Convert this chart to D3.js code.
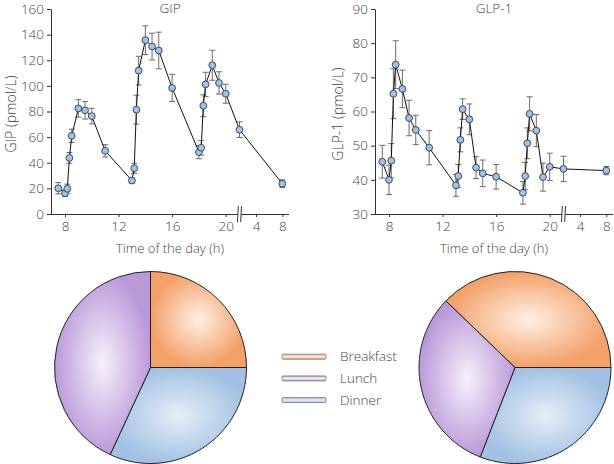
<!DOCTYPE html>
<html><head><meta charset="utf-8">
<script src="https://cdn.jsdelivr.net/npm/d3@7"></script>
<style>
body{margin:0;background:#fff;}
text{font-family:"Open Sans","DejaVu Sans",sans-serif;font-weight:300;fill:#444;}
</style></head>
<body><svg id="c" width="614" height="464"></svg>
<script>
// ---- data ----
const times = [7.5, 8, 8.17, 8.33, 8.5, 9, 9.5, 10, 11, 13, 13.17, 13.33, 13.5, 14, 14.5, 15, 16, 18, 18.17, 18.33, 18.5, 19, 19.5, 20, 22, 32];
const gipValues = [20.1, 16.2, 19.7, 43.8, 61, 82.4, 80.9, 76.4, 49.3, 26.1, 35.7, 81.4, 111.9, 135.7, 130.7, 127.6, 98.4, 48.3, 51.7, 84.5, 101.2, 116.1, 102.3, 93.9, 65.8, 23.7];
const gipErrors = [4.4, 2.5, 3.6, 4.2, 5.2, 6.8, 6.8, 6.1, 4.8, 2, 3.9, 11.3, 11.2, 11.2, 10.4, 14.3, 10.6, 5.2, 5.7, 8.5, 9.4, 11.7, 8.7, 7.4, 6.1, 3];
const glpValues = [45.3, 40.0, 45.6, 65.2, 73.7, 66.6, 58.1, 54.6, 49.4, 38.4, 41.1, 51.7, 60.7, 57.7, 43.6, 41.9, 40.9, 36.2, 41.1, 50.7, 59.3, 54.4, 40.8, 43.8, 43.2, 42.7];
const glpErrors = [4.8, 4.3, 5, 7.3, 7, 5.5, 5.2, 4.3, 5, 3.2, 3.4, 3.5, 3, 4.5, 3.2, 3.9, 3.6, 3.3, 4, 4.5, 5, 4.7, 4.1, 4, 3.7, 1.2];
const xTickValues = [8, 12, 16, 20, 28, 32];
const xTickLabels = ["8", "12", "16", "20", "4", "8"];
const breakTime = 22;
const gipTicks = [0, 20, 40, 60, 80, 100, 120, 140, 160];
const glpTicks = [30, 40, 50, 60, 70, 80, 90];
const meals = ["Breakfast", "Lunch", "Dinner"];
const gipShares = {Breakfast: 25.0, Lunch: 43.1, Dinner: 31.9};
const glpShares = {Breakfast: 37.8, Lunch: 31.3, Dinner: 30.9};
const mealEdge = {Breakfast: "#f3a069", Lunch: "#ba99d9", Dinner: "#a3c2e3"};
const mealCenter = {Breakfast: "#fff0e4", Lunch: "#f6f1fb", Dinner: "#e6eef7"};

const svg = d3.select("#c");
const defs = svg.append("defs");
meals.forEach(m => {
  const rg = defs.append("radialGradient").attr("id", "rg-" + m);
  rg.append("stop").attr("offset", "0%").attr("stop-color", mealCenter[m]);
  rg.append("stop").attr("offset", "100%").attr("stop-color", mealEdge[m]);
  const lg = defs.append("linearGradient").attr("id", "lg-" + m).attr("x1", 0).attr("x2", 0).attr("y1", 0).attr("y2", 1);
  lg.append("stop").attr("offset", "0%").attr("stop-color", mealEdge[m]);
  lg.append("stop").attr("offset", "50%").attr("stop-color", mealCenter[m]);
  lg.append("stop").attr("offset", "100%").attr("stop-color", mealEdge[m]);
});

function panel(ox, title, yLabel, values, errors, yDomain, yTicks, labelOffset) {
  const x = d3.scaleLinear().domain([7, 20, breakTime, 28, 32])
    .range([ox + 0.6, ox + 174.7, ox + 188.5, ox + 205, ox + 231.3]);
  const y = d3.scaleLinear().domain(yDomain).range([214, 9]);
  const g = svg.append("g");
  // axes
  const ya = g.append("g").attr("transform", `translate(${ox},0)`)
    .call(d3.axisLeft(y).tickValues(yTicks).tickSize(4).tickPadding(3).tickSizeOuter(0));
  const xa = g.append("g").attr("transform", "translate(0,214)")
    .call(d3.axisBottom(x).tickValues(xTickValues).tickFormat((d, i) => xTickLabels[i]).tickSize(3).tickPadding(4).tickSizeOuter(0));
  xa.select(".domain").attr("d", `M${ox},0.5H${ox + 238}`);
  [ya, xa].forEach(a => {
    a.selectAll("text").style("font-size", "13.5px").style("fill", "#444").style("font-family", null);
    a.selectAll("line,path").attr("stroke", "#333");
  });
  // break marker
  const bx = x(breakTime);
  g.append("rect").attr("x", bx - 1.6).attr("y", 210).attr("width", 3.2).attr("height", 8).attr("fill", "#fff");
  [-1.6, 1.6].forEach(d => g.append("line").attr("x1", bx + d + 0.4).attr("x2", bx + d - 0.4)
    .attr("y1", 206).attr("y2", 222).attr("stroke", "#333").attr("stroke-width", 1));
  // title & labels
  g.append("text").attr("x", ox + 119).attr("y", 13).attr("text-anchor", "middle").style("font-size", "13.5px").text(title);
  g.append("text").attr("x", ox + 119).attr("y", 253).attr("text-anchor", "middle").style("font-size", "13px").text("Time of the day (h)");
  g.append("text").attr("transform", `translate(${ox - labelOffset},114) rotate(-90)`)
    .attr("text-anchor", "middle").style("font-size", "14px").text(yLabel);
  // error bars
  const eb = g.append("g").attr("stroke", "#6b6b6b").attr("stroke-width", 1);
  times.forEach((t, i) => {
    const cx = x(t), y1 = y(values[i] + errors[i]), y2 = y(values[i] - errors[i]);
    eb.append("line").attr("x1", cx).attr("x2", cx).attr("y1", y1).attr("y2", y2);
    eb.append("line").attr("x1", cx - 3).attr("x2", cx + 3).attr("y1", y1).attr("y2", y1);
    eb.append("line").attr("x1", cx - 3).attr("x2", cx + 3).attr("y1", y2).attr("y2", y2);
  });
  // line
  g.append("path").datum(times.map((t, i) => [t, values[i]]))
    .attr("d", d3.line().x(d => x(d[0])).y(d => y(d[1])))
    .attr("fill", "none").attr("stroke", "#111").attr("stroke-width", 1);
  // markers
  g.selectAll(null).data(times).enter().append("circle")
    .attr("cx", d => x(d)).attr("cy", (d, i) => y(values[i])).attr("r", 3.4)
    .attr("fill", "#a4c2e6").attr("stroke", "#2b3a52").attr("stroke-width", 0.9);
}

panel(51, "GIP", "GIP (pmol/L)", gipValues, gipErrors, [0, 160], gipTicks, 35);
panel(375, "GLP-1", "GLP-1 (pmol/L)", glpValues, glpErrors, [30, 90], glpTicks, 32);

function pieChart(cx, cy, r, shares) {
  const data = meals.map(m => ({meal: m, value: shares[m]}));
  const order = ["Breakfast", "Dinner", "Lunch"];
  data.sort((a, b) => order.indexOf(a.meal) - order.indexOf(b.meal));
  const total = d3.sum(data, d => d.value);
  const start = Math.PI / 2 - shares.Breakfast / total * 2 * Math.PI;
  const pie = d3.pie().sort(null).value(d => d.value).startAngle(start).endAngle(start + 2 * Math.PI);
  const arc = d3.arc().innerRadius(0).outerRadius(r);
  const g = svg.append("g").attr("transform", `translate(${cx},${cy})`);
  g.selectAll("path").data(pie(data)).enter().append("path")
    .attr("d", arc).attr("fill", d => `url(#rg-${d.data.meal})`)
    .attr("stroke", "#222").attr("stroke-width", 1);
}
pieChart(150.5, 367.5, 96, gipShares);
pieChart(515, 367.5, 96, glpShares);

// legend
const lg = svg.append("g");
meals.forEach((m, i) => {
  const yy = 356.7 + i * 21.7;
  lg.append("rect").attr("x", 282).attr("y", yy - 2.5).attr("width", 44).attr("height", 5).attr("rx", 1)
    .attr("fill", `url(#lg-${m})`).attr("stroke", "#777").attr("stroke-width", 0.8);
  lg.append("text").attr("x", 340).attr("y", yy + 4.5).style("font-size", "13.5px").text(m);
});
</script></body></html>
